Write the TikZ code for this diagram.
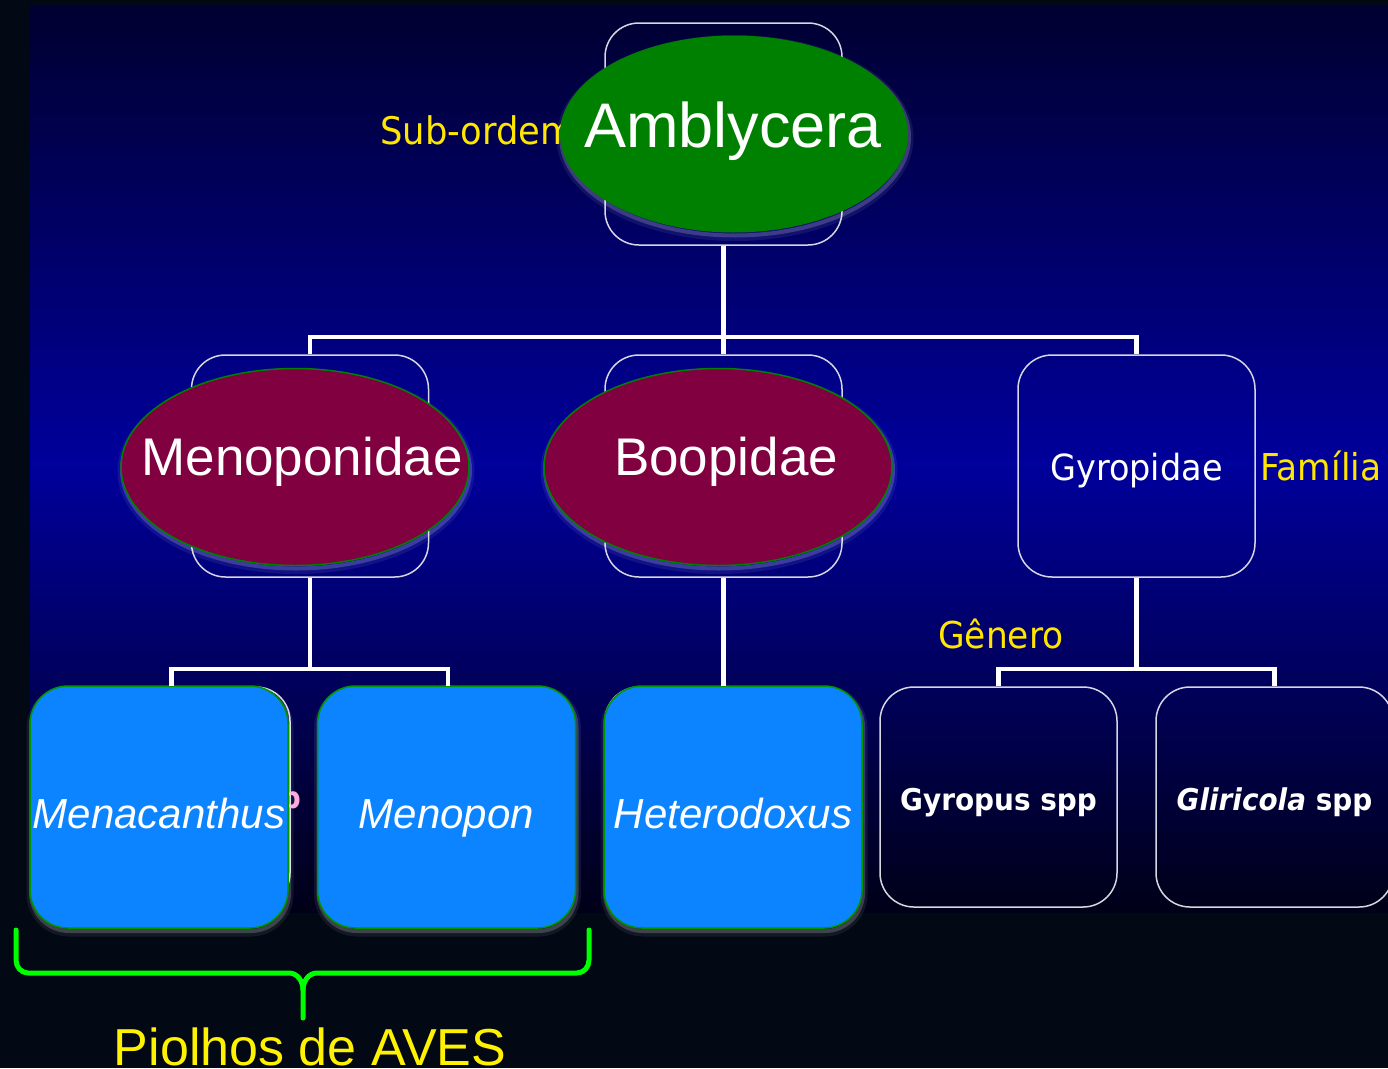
\documentclass[tikz,border=0pt]{standalone}
\usepackage{fontspec}
\usepackage{tikz}
\usetikzlibrary{shapes.geometric}
\setmainfont{Liberation Sans}
\newfontfamily\tahoma{DejaVu Sans}[FakeStretch=0.93]

\definecolor{outerbg}{RGB}{2,8,20}
\definecolor{bgtop}{RGB}{0,0,50}
\definecolor{bgmid}{RGB}{0,0,155}
\definecolor{bgbot}{RGB}{0,0,24}
\definecolor{ghostline}{RGB}{215,215,228}
\definecolor{ordgreen}{RGB}{0,128,0}
\definecolor{fammaroon}{RGB}{128,0,64}
\definecolor{genblue}{RGB}{12,132,255}
\definecolor{genborder}{RGB}{0,150,0}
\definecolor{lblyellow}{RGB}{255,230,0}
\definecolor{bracegreen}{RGB}{0,255,0}
\definecolor{ghostpink}{RGB}{255,170,220}

\begin{document}
\begin{tikzpicture}[x=1pt,y=-1pt,
	glow/.style={preaction={draw=white,opacity=0.07,line width=9pt,transform canvas={xshift=1pt,yshift=-4pt}},
		preaction={draw=white,opacity=0.18,line width=4pt,transform canvas={xshift=1pt,yshift=-3pt}}},
	ghost/.style={shape=rectangle,draw=ghostline,line width=1.5pt,rounded corners=34pt,minimum width=237pt,minimum height=222pt,inner sep=0pt},
	oval/.style={shape=ellipse,glow,minimum width=348pt,minimum height=197pt,inner sep=0pt},
	ovaltext/.style={text=white,anchor=base,inner sep=0pt},
	genbox/.style={shape=rectangle,glow,fill=genblue,draw=genborder,line width=1.5pt,rounded corners=38pt,minimum width=258pt,minimum height=242pt,inner sep=0pt,text=white,text height=42pt,text depth=0pt},
	conn/.style={draw=white,line width=4.5pt},
	rank/.style={text=lblyellow,anchor=base west,inner sep=0pt}]

	\useasboundingbox (0,0) rectangle (1388,1068);
	\clip (0,0) rectangle (1388,1068);
	\fill[outerbg] (0,0) rectangle (1388,1068);
	% fundo em degrade
	\foreach \i in {0,...,89} {
		\pgfmathsetmacro\ya{5+\i*10.089}
		\pgfmathsetmacro\yb{\ya+10.7}
		\pgfmathtruncatemacro\p{\i<45 ? \i*100/45 : (\i-45)*100/44}
		\ifnum\i<45
			\fill[bgmid!\p!bgtop] (30,\ya) rectangle (1388,\yb);
		\else
			\fill[bgbot!\p!bgmid] (30,\ya) rectangle (1388,\yb);
		\fi
	}
	\fill[outerbg] (30,913) rectangle (1388,925);

	% sub-ordem
	\node[rank] (subordem) at (380,144) {\tahoma\fontsize{38}{44}\selectfont Sub-ordem};
	\node[ghost] (amblybox) at (723.5,134) {};
	\node[oval,fill=ordgreen] (ambly) at (734,134) {};
	\node[ovaltext] (amblytxt) at (733,147) {\fontsize{63}{70}\selectfont Amblycera};

	% familias
	\node[ghost] (menobox) at (310,466) {};
	\node[ghost] (boobox) at (723.5,466) {};
	\node[ghost,text=white,text height=28pt,text depth=0pt] (gyrobox) at (1136.5,466) {\tahoma\fontsize{36}{44}\selectfont Gyropidae};
	\node[oval,fill=fammaroon,draw=ordgreen,line width=1.5pt] (meno) at (295,467) {};
	\node[oval,fill=fammaroon,draw=ordgreen,line width=1.5pt] (boo) at (718,467) {};
	\node[ovaltext] (menotxt) at (302,475) {\fontsize{53}{60}\selectfont Menoponidae};
	\node[ovaltext] (bootxt) at (726,475) {\fontsize{53}{60}\selectfont Boopidae};
	\node[rank] (familia) at (1260,480) {\tahoma\fontsize{37}{44}\selectfont Família};

	\coordinate (bus1) at (723.5,337);
	\draw[conn] (amblybox.south) -- (bus1);
	\draw[conn] (bus1) -| (menobox.north);
	\draw[conn] (bus1) -| (boobox.north);
	\draw[conn] (bus1) -| (gyrobox.north);

	% generos
	\node[rank] (genero) at (938,648) {\tahoma\fontsize{37}{44}\selectfont Gênero};
	\node[ghost,minimum height=220pt] (menaghost) at (171.5,797) {};
	\node[ghost,minimum height=220pt] (menoghost) at (448,797) {};
	\node[ghost,minimum height=220pt] (hetghost) at (723.5,797) {};
	\node[text=ghostpink,anchor=base east,inner sep=0pt] (menaspp) at (301,808) {\tahoma\bfseries\fontsize{30}{36}\selectfont spp};
	\node[genbox] (mena) at (159,807) {\fontsize{42}{48}\selectfont\itshape Menacanthus};
	\node[genbox] (menopon) at (446.5,807) {\fontsize{42}{48}\selectfont\itshape Menopon};
	\node[genbox] (hetero) at (733,807) {\fontsize{42}{48}\selectfont\itshape Heterodoxus};
	\node[ghost,minimum height=220pt,text=white,text height=26pt,text depth=0pt] (gyropus) at (998.5,797) {\tahoma\bfseries\fontsize{30}{36}\selectfont Gyropus spp};
	\node[ghost,minimum height=220pt,text=white,text height=26pt,text depth=0pt] (gliricola) at (1274.5,797) {\tahoma\bfseries\fontsize{30}{36}\selectfont\itshape Gliricola\upshape{} spp};

	\coordinate (bus2) at (310,669);
	\draw[conn] (menobox.south) -- (bus2);
	\draw[conn] (bus2) -| (menaghost.north);
	\draw[conn] (bus2) -| (menoghost.north);
	\draw[conn] (boobox.south) -- (hetghost.north);
	\coordinate (bus3) at (1136.5,669);
	\draw[conn] (gyrobox.south) -- (bus3);
	\draw[conn] (bus3) -| (gyropus.north);
	\draw[conn] (bus3) -| (gliricola.north);

	% chave
	\coordinate (bracetip) at (303,1018);
	\draw[bracegreen,line width=5pt,line cap=round,line join=round] (16,930) -- (16,960) to[out=-90,in=180] (28,973) -- (289,973) to[out=0,in=90] (303,990) -- (bracetip);
	\draw[bracegreen,line width=5pt,line cap=round,line join=round] (589,930) -- (589,960) to[out=-90,in=0] (577,973) -- (317,973) to[out=180,in=90] (303,990);
	\node[text=yellow,anchor=base,inner sep=0pt] (aves) at (310,1065) {\fontsize{52}{60}\selectfont Piolhos de AVES};

\end{tikzpicture}
\end{document}
